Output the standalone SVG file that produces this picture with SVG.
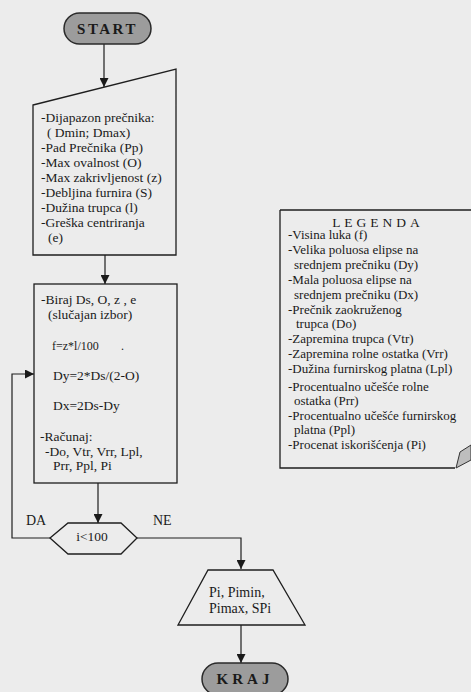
<svg xmlns="http://www.w3.org/2000/svg" width="471" height="692" viewBox="0 0 471 692">
<defs>
<marker id="arr" viewBox="0 0 10 10" refX="10" refY="5" markerWidth="9" markerHeight="9" markerUnits="userSpaceOnUse" orient="auto">
<path d="M0,0 L10,5 L0,10 z" fill="#1a1a1a"/>
</marker>
</defs>
<style>
.bg{fill:#ececec}
.sh{fill:none;stroke:#1e1e1e;stroke-width:1.3}
.pill{fill:#9c9c9c;stroke:#2a2a2a;stroke-width:1.5}
.ln{fill:none;stroke:#1e1e1e;stroke-width:1.2}
text{fill:#1a1a1a;font-size:13.5px}
.term{font-size:15px;font-weight:bold;letter-spacing:2.5px;text-anchor:middle}
.small{font-size:12px}
.lab{font-size:14px}
.leg{font-size:13px}
</style>
<rect class="bg" x="0" y="0" width="471" height="692"/>
<g font-family="Liberation Serif, Times New Roman, DejaVu Serif, serif">
<g id="connectors">
<line class="ln" x1="104" y1="44" x2="104" y2="87" marker-end="url(#arr)"/>
<line class="ln" x1="105" y1="255" x2="105" y2="284" marker-end="url(#arr)"/>
<line class="ln" x1="98" y1="483" x2="98" y2="523" marker-end="url(#arr)"/>
<polyline class="ln" points="50,538 12,538 12,374 34,374" marker-end="url(#arr)"/>
<polyline class="ln" points="137,538 241,538 241,569" marker-end="url(#arr)"/>
<line class="ln" x1="241" y1="625" x2="241" y2="663" marker-end="url(#arr)"/>
<text x="26" y="525" class="lab">DA</text>
<text x="153" y="525" class="lab">NE</text>
</g>

<g id="start">
<rect class="pill" x="64" y="13" width="87" height="31" rx="15.5"/>
<text x="107.5" y="34" class="term">START</text>
</g>

<g id="input">
<polygon class="sh" points="33,105 176,69 176,255 33,255"/>
<text x="41" y="122">-Dijapazon prečnika:</text>
<text x="47" y="137">( Dmin;  Dmax)</text>
<text x="41" y="152">-Pad Prečnika (Pp)</text>
<text x="41" y="167">-Max ovalnost (O)</text>
<text x="41" y="182">-Max zakrivljenost (z)</text>
<text x="41" y="197">-Debljina furnira (S)</text>
<text x="41" y="212">-Dužina trupca (l)</text>
<text x="41" y="227">-Greška centriranja</text>
<text x="48" y="242">(e)</text>
</g>

<g id="process">
<rect class="sh" x="34" y="284" width="143" height="199"/>
<text x="41" y="304">-Biraj  Ds, O, z , e</text>
<text x="48" y="319">(slučajan izbor)</text>
<text x="52" y="350" class="small">f=z*l/100</text>
<text x="121" y="350" class="small">.</text>
<text x="53" y="380">Dy=2*Ds/(2-O)</text>
<text x="53" y="410">Dx=2Ds-Dy</text>
<text x="40" y="441">-Računaj:</text>
<text x="45" y="456">-Do, Vtr, Vrr, Lpl,</text>
<text x="53" y="470">Prr, Ppl, Pi</text>
</g>

<g id="decision">
<polygon class="sh" points="50,538 68,523 121,523 137,538 121,554 68,554"/>
<text x="92" y="541" text-anchor="middle">i&lt;100</text>
</g>

<g id="output">
<polygon class="sh" points="208,570 273,570 305,625 178,625"/>
<text x="209" y="597" class="lab">Pi, Pimin,</text>
<text x="209" y="613" class="lab">Pimax, SPi</text>
</g>

<g id="end">
<rect class="pill" x="202" y="663" width="86" height="32" rx="16"/>
<text x="245" y="684" class="term" style="letter-spacing:4px">KRAJ</text>
</g>

<g id="legend" class="legend">
<path class="sh" d="M280,210 L472,210 M280,210 L280,468 L455,468"/>
<path d="M456,468 L460,452 L471,445 L471,460 Z" fill="#bdbdbd" stroke="#333" stroke-width="1"/>
<text x="378" y="227" text-anchor="middle" class="leg" style="letter-spacing:4px;font-size:13.5px">LEGENDA</text>
<text class="leg" x="288" y="239">-Visina luka (f)</text>
<text class="leg" x="288" y="254">-Velika poluosa elipse na</text>
<text class="leg" x="294" y="269">srednjem prečniku (Dy)</text>
<text class="leg" x="288" y="284">-Mala poluosa elipse na</text>
<text class="leg" x="294" y="299">srednjem prečniku (Dx)</text>
<text class="leg" x="288" y="314">-Prečnik zaokruženog</text>
<text class="leg" x="296" y="328">trupca (Do)</text>
<text class="leg" x="288" y="343">-Zapremina trupca (Vtr)</text>
<text class="leg" x="288" y="358">-Zapremina rolne ostatka (Vrr)</text>
<text class="leg" x="288" y="373">-Dužina furnirskog platna (Lpl)</text>
<text class="leg" x="288" y="391">-Procentualno učešće rolne</text>
<text class="leg" x="294" y="405">ostatka (Prr)</text>
<text class="leg" x="288" y="420">-Procentualno učešće furnirskog</text>
<text class="leg" x="294" y="434">platna (Ppl)</text>
<text class="leg" x="288" y="449">-Procenat iskorišćenja (Pi)</text>
</g>
</g>
</svg>
